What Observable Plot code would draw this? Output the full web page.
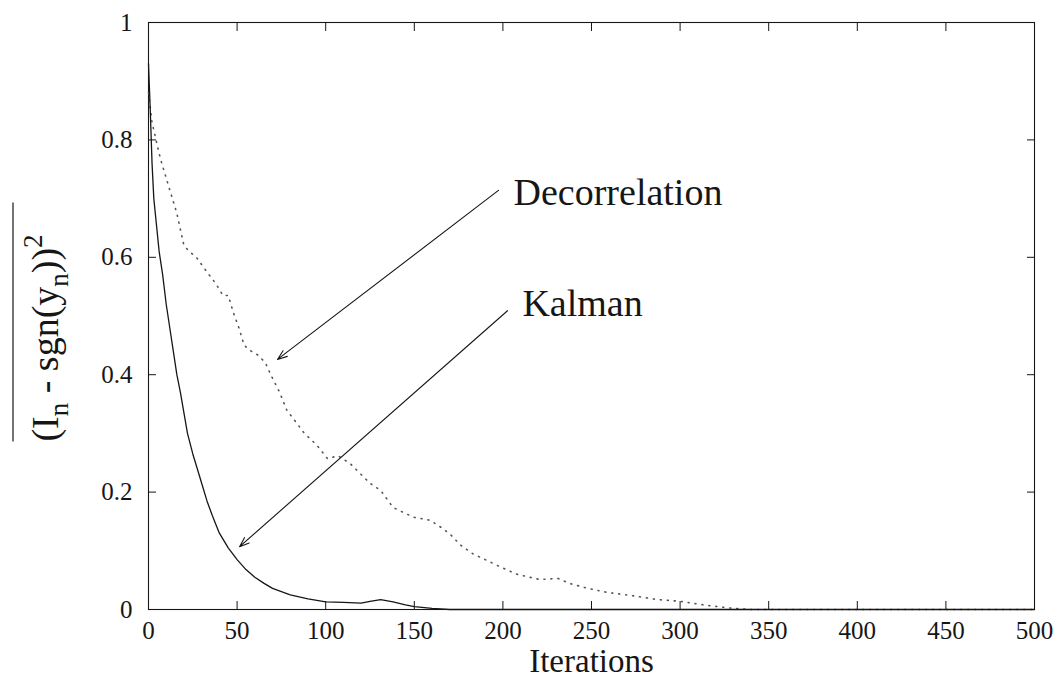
<!DOCTYPE html>
<html>
<head>
<meta charset="utf-8">
<script src="https://cdn.jsdelivr.net/npm/d3@7"></script>
<script src="https://cdn.jsdelivr.net/npm/@observablehq/plot@0.6"></script>
<style>
  html, body { margin: 0; padding: 0; background: #fff; }
  svg { display: block; }
  #chart svg, #chart svg text { font-family: "Liberation Serif", "Times New Roman", "DejaVu Serif", serif !important; }
</style>
</head>
<body>
<div id="chart"></div>
<script>
const FONT = "Liberation Serif, Times New Roman, DejaVu Serif, serif";
const INK = "#161616";

// Axis ticks
const xTicks = [0, 50, 100, 150, 200, 250, 300, 350, 400, 450, 500];
const yTicks = [0, 0.2, 0.4, 0.6, 0.8, 1];

// Kalman (solid curve)
const kalmanX = [0, 1, 2, 3, 4, 6, 8, 10, 12, 14, 16, 18, 20, 22, 25, 28, 30, 33, 36, 40, 45, 50, 55, 60, 65, 70, 80, 90, 100, 110, 120, 125, 131, 138, 145, 150, 160, 170, 200, 250, 300, 350, 400, 450, 500];
const kalmanY = [0.93, 0.85, 0.76, 0.70, 0.67, 0.61, 0.57, 0.52, 0.48, 0.44, 0.40, 0.37, 0.335, 0.30, 0.265, 0.235, 0.215, 0.185, 0.16, 0.13, 0.105, 0.085, 0.068, 0.055, 0.045, 0.036, 0.025, 0.018, 0.013, 0.012, 0.011, 0.014, 0.017, 0.013, 0.008, 0.005, 0.002, 0, 0, 0, 0, 0, 0, 0, 0];

// Decorrelation (dotted curve)
const decorX = [0, 2, 5, 7, 11, 16, 20, 23, 27, 33, 38, 42, 45, 48, 51, 54, 58, 62, 66, 69, 74, 78, 83, 88, 95, 101, 107, 114, 120, 125, 131, 138, 144, 150, 159, 165, 170, 176, 183, 190, 199, 208, 215, 221, 231, 238, 248, 259, 272, 287, 300, 315, 330, 340, 360, 400, 450, 500];
const decorY = [0.88, 0.83, 0.79, 0.765, 0.725, 0.675, 0.62, 0.61, 0.60, 0.575, 0.555, 0.535, 0.535, 0.505, 0.48, 0.45, 0.44, 0.433, 0.42, 0.40, 0.37, 0.34, 0.32, 0.30, 0.28, 0.257, 0.262, 0.248, 0.23, 0.215, 0.203, 0.174, 0.165, 0.157, 0.152, 0.14, 0.129, 0.11, 0.095, 0.085, 0.072, 0.06, 0.055, 0.051, 0.053, 0.044, 0.036, 0.029, 0.024, 0.017, 0.014, 0.007, 0.002, 0, 0, 0, 0, 0];

// Annotations (data units)
const annoNames = ["Decorrelation", "Kalman"];
const annoLabelX = [206, 211];
const annoLabelY = [0.71, 0.52];
const arrowFromX = [197.5, 202.6];
const arrowFromY = [0.714, 0.509];
const arrowToX = [72.8, 51.4];
const arrowToY = [0.426, 0.107];

const kalman = kalmanX.map((x, i) => ({x, y: kalmanY[i]}));
const decor = decorX.map((x, i) => ({x, y: decorY[i]}));
const annos = annoNames.map((name, i) => ({
  name, lx: annoLabelX[i], ly: annoLabelY[i],
  x1: arrowFromX[i], y1: arrowFromY[i], x2: arrowToX[i], y2: arrowToY[i]
}));

const chart = Plot.plot({
  width: 1059,
  height: 691,
  marginLeft: 148,
  marginRight: 25,
  marginTop: 22,
  marginBottom: 82,
  style: {fontFamily: FONT, background: "#fff", color: INK},
  x: {domain: [0, 500]},
  y: {domain: [0, 1]},
  marks: [
    Plot.frame({stroke: INK, strokeWidth: 1.1}),
    Plot.axisX(xTicks, {anchor: "bottom", tickSize: -8, tickPadding: 20, fontSize: 25, fontFamily: FONT, label: null, stroke: INK}),
    Plot.axisX(xTicks, {anchor: "top", tickSize: -8, text: null, label: null, stroke: INK}),
    Plot.axisY(yTicks, {anchor: "left", tickSize: -8, tickPadding: 24, fontSize: 25, fontFamily: FONT, label: null, tickFormat: d => String(d), stroke: INK}),
    Plot.axisY(yTicks, {anchor: "right", tickSize: -8, text: null, label: null, stroke: INK}),
    Plot.line(decor, {x: "x", y: "y", stroke: "#555", strokeWidth: 1.6, strokeDasharray: "1,6", strokeLinecap: "round"}),
    Plot.line(kalman, {x: "x", y: "y", stroke: INK, strokeWidth: 1.3}),
    Plot.arrow(annos, {x1: "x1", y1: "y1", x2: "x2", y2: "y2", stroke: INK, strokeWidth: 1.1, headLength: 14, headAngle: 40}),
    Plot.text(annos, {x: "lx", y: "ly", text: "name", textAnchor: "start", fontSize: 38, fontFamily: FONT, fill: INK}),
    Plot.text(["Iterations"], {frameAnchor: "bottom", dy: 62, text: d => d, fontSize: 33, fontFamily: FONT, fill: INK})
  ]
});

document.getElementById("chart").appendChild(chart);

// Y-axis label with subscripts, superscript and overline
const svg = d3.select(chart);
const g = svg.append("g").attr("transform", "translate(58,338) rotate(-90)");
const t = g.append("text")
  .attr("text-anchor", "middle")
  .attr("font-family", FONT)
  .attr("font-size", 38)
  .attr("fill", INK);
t.append("tspan").text("(I");
t.append("tspan").attr("dy", 10).attr("font-size", 27).text("n");
t.append("tspan").attr("dy", -10).text(" - sgn(y");
t.append("tspan").attr("dy", 10).attr("font-size", 27).text("n");
t.append("tspan").attr("dy", -10).text("))");
t.append("tspan").attr("dy", -16).attr("font-size", 27).text("2");
const bb = t.node().getBBox();
g.append("line")
  .attr("x1", bb.x)
  .attr("x2", bb.x + bb.width + 32)
  .attr("y1", -45)
  .attr("y2", -45)
  .attr("stroke", INK)
  .attr("stroke-width", 1.2);
</script>
</body>
</html>
